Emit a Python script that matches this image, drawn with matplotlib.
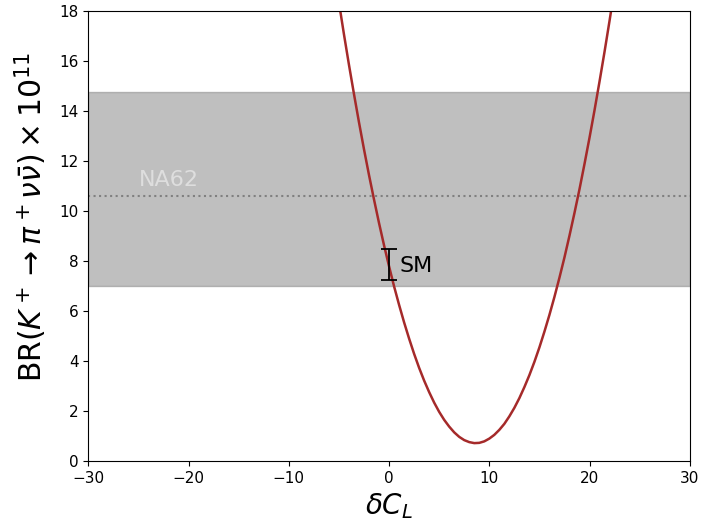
import matplotlib
matplotlib.use("Agg")
import matplotlib.pyplot as plt

# curve: BR(K+ -> pi+ nu nubar) x 1e11 versus delta C_L
dcl = [-5, -4.5, -4, -3.5, -3, -2.5, -2, -1.5, -1, -0.5, 0, 0.5, 1, 1.5, 2,
       2.5, 3, 3.5, 4, 4.5, 5, 5.5, 6, 6.5, 7, 7.5, 8, 8.5, 9, 9.5, 10, 10.5,
       11, 11.5, 12, 12.5, 13, 13.5, 14, 14.5, 15, 15.5, 16, 16.5, 17, 17.5,
       18, 18.5, 19, 19.5, 20, 20.5, 21, 21.5, 22, 22.5]
br = [18.34, 17.07, 15.85, 14.68, 13.55, 12.47, 11.44, 10.46, 9.52, 8.63,
      7.79, 6.99, 6.25, 5.55, 4.90, 4.29, 3.73, 3.22, 2.76, 2.34, 1.97, 1.65,
      1.38, 1.15, 0.97, 0.84, 0.76, 0.72, 0.73, 0.79, 0.90, 1.05, 1.25, 1.49,
      1.79, 2.13, 2.52, 2.96, 3.44, 3.97, 4.55, 5.18, 5.85, 6.57, 7.34, 8.15,
      9.02, 9.93, 10.88, 11.89, 12.94, 14.04, 15.19, 16.38, 17.62, 18.91]

# NA62 measurement and SM prediction
na62_central = 10.6
na62_band = [7.0, 14.75]
sm_central = 7.86
sm_err = 0.61

fig = plt.figure(figsize=(7.01, 5.24), dpi=100)
ax = fig.add_axes([0.126, 0.120, 0.858, 0.859])

ax.axhspan(na62_band[0], na62_band[1], color="gray", alpha=0.5)
ax.axhline(na62_central, color="gray", ls=":", lw=1.5)
ax.text(-25, 11.0, "NA62", color="#dedede", fontsize=16)

ax.plot(dcl, br, color="brown", lw=1.8)

ax.errorbar([0], [sm_central], yerr=[sm_err], color="black", capsize=6, lw=1.3, capthick=1.3)
ax.text(1.0, 7.8, "SM", fontsize=16, va="center")

ax.set_xlim(-30, 30)
ax.set_ylim(0, 18)
ax.tick_params(labelsize=11)
ax.set_xlabel(r"$\delta C_L$", fontsize=20)
ax.set_ylabel(r"BR$(K^+\to\pi^+\nu\bar{\nu})\times10^{11}$", fontsize=21.5)
ax.yaxis.set_label_coords(-0.066, 0.542)

fig.savefig("out.png", dpi=100)
